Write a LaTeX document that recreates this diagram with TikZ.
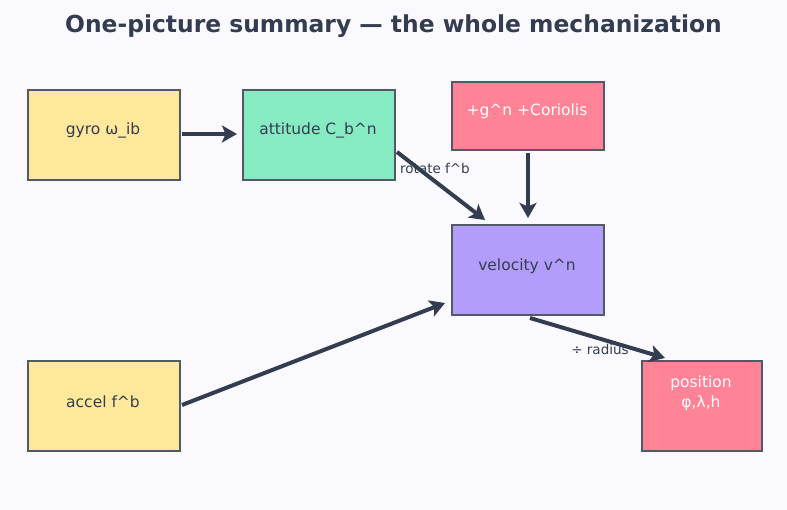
\documentclass[tikz,border=0pt]{standalone}
\usepackage{fontspec}
\setmainfont{DejaVu Sans}
\usetikzlibrary{arrows.meta}
\definecolor{bg}{HTML}{FAFAFE}
\definecolor{ink}{HTML}{343D50}
\definecolor{edge}{HTML}{525A68}
\definecolor{cyel}{HTML}{FDE89B}
\definecolor{cgrn}{HTML}{86EAC2}
\definecolor{cred}{HTML}{FF8396}
\definecolor{cpur}{HTML}{B39DFA}
\tikzset{
  box/.style={draw=edge, line width=2pt, rectangle, inner sep=0pt, anchor=north west},
  boxtxt/.style={font=\fontsize{15.5}{20}\selectfont, text=ink, inner sep=0pt, align=center},
  boxtxtw/.style={boxtxt, text=white},
  arr/.style={draw=ink, line width=4pt, -{Stealth[length=15pt,width=17pt,inset=3.5pt]}},
  lbl/.style={font=\fontsize{13.5}{16}\selectfont, text=ink, inner sep=1pt}
}
\begin{document}
\begin{tikzpicture}[x=1pt,y=-1pt]
\path[fill=bg] (0,0) rectangle (787,510);
\node[font=\bfseries\fontsize{23.4}{28}\selectfont, text=ink] (title) at (393.5,26) {One-picture summary — the whole mechanization};
% boxes
\node[box, fill=cyel, minimum width=152pt, minimum height=90pt] (gyro) at (27,89) {};
\node[box, fill=cgrn, minimum width=152pt, minimum height=90pt] (att) at (242,89) {};
\node[box, fill=cred, minimum width=152pt, minimum height=68pt] (cor) at (451,81) {};
\node[box, fill=cpur, minimum width=152pt, minimum height=90pt] (vel) at (451,224) {};
\node[box, fill=cyel, minimum width=152pt, minimum height=90pt] (acc) at (27,360) {};
\node[box, fill=cred, minimum width=120pt, minimum height=90pt] (pos) at (641,360) {};
% texts
\node[boxtxt] (gyrot) at (103,130) {gyro ω\_ib};
\node[boxtxt] (attt) at (318,130) {attitude C\_b\textasciicircum n};
\node[boxtxtw] (cort) at (527,111) {+g\textasciicircum n +Coriolis};
\node[boxtxt] (velt) at (527,266) {velocity v\textasciicircum n};
\node[boxtxt] (acct) at (103,402) {accel f\textasciicircum b};
\node[boxtxtw] (post) at (701,393) {position\\φ,λ,h};
% labels
\node[lbl, anchor=west] (rotl) at (399,168) {rotate f\textasciicircum b};
\node[lbl, fill=bg] (radl) at (600,349) {÷ radius};
% arrows
\draw[arr] ([xshift=1pt,yshift=1pt]gyro.east) -- ([xshift=-5pt,yshift=1pt]att.west);
\draw[arr] ([xshift=1pt,yshift=-17pt]att.east) -- ([xshift=34pt,yshift=4pt]vel.north west);
\draw[arr] ([yshift=-2pt]cor.south) -- ([yshift=6pt]vel.north);
\draw[arr] ([xshift=1pt,yshift=1pt]acc.east) -- ([xshift=-6pt,yshift=-33pt]vel.west);
\draw[arr] ([xshift=2pt,yshift=-2pt]vel.south) -- ([xshift=24pt,yshift=2pt]pos.north west);
\end{tikzpicture}
\end{document}
